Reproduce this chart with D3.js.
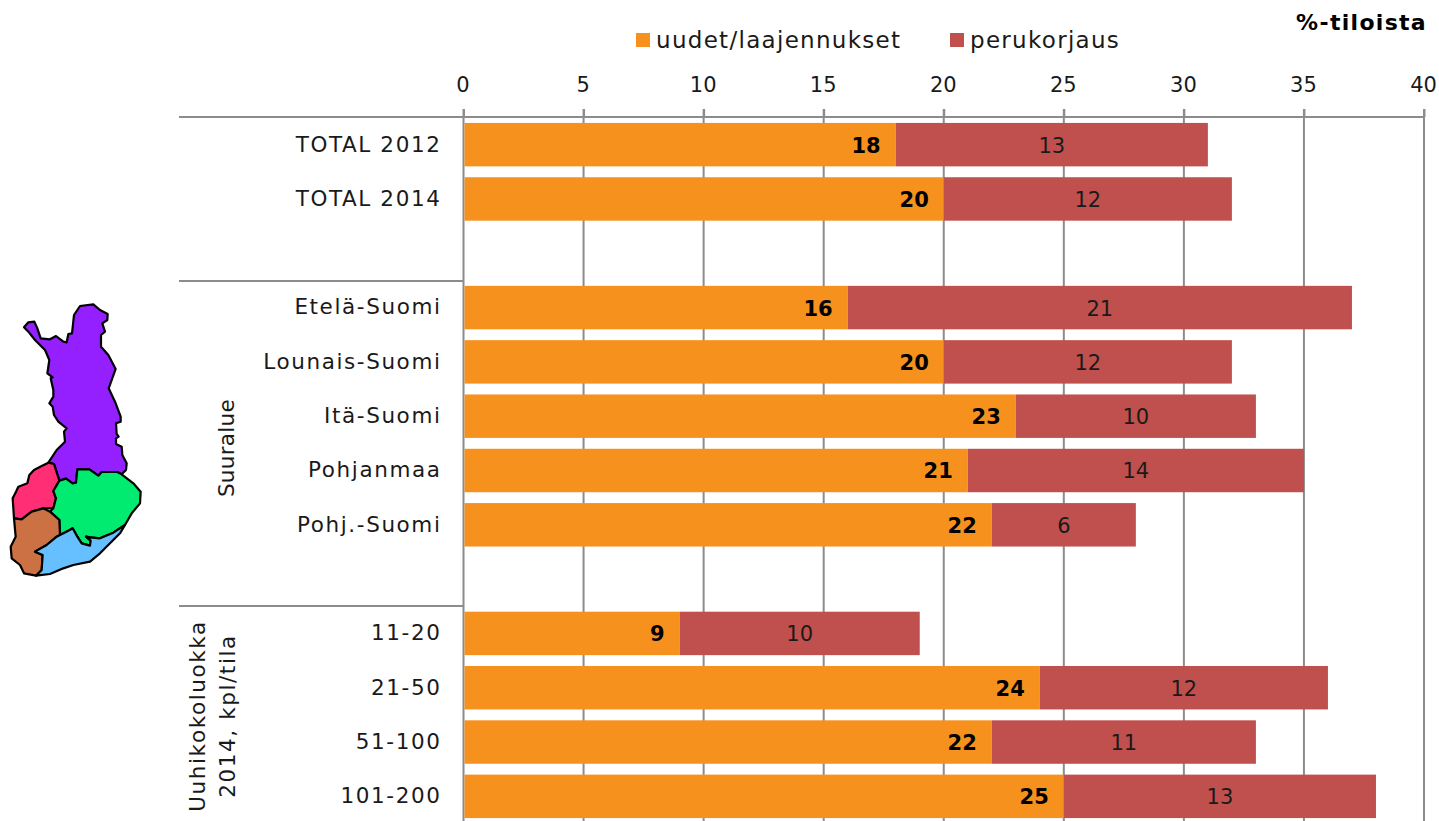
<!DOCTYPE html>
<html><head><meta charset="utf-8">
<script src="https://cdn.jsdelivr.net/npm/d3@7/dist/d3.min.js"></script>
<style>
html,body{margin:0;padding:0;background:#fff;overflow:hidden}
text{font-family:"DejaVu Sans",Verdana,sans-serif;fill:#1a1a1a}
</style></head><body><svg id="c" width="1439" height="821"></svg>
<script>
const categories=["TOTAL 2012","TOTAL 2014","_a","Etelä-Suomi","Lounais-Suomi","Itä-Suomi","Pohjanmaa","Pohj.-Suomi","_b","11-20","21-50","51-100","101-200"];
const newBuild=[18,20,null,16,20,23,21,22,null,9,24,22,25];
const renovation=[13,12,null,21,12,10,14,6,null,10,12,11,13];
const seriesNames=["uudet/laajennukset","perukorjaus"];
const seriesColors=["#F7911E","#C0504D"];
const xTicks=[0,5,10,15,20,25,30,35,40];
const mapRegions=[
{name:"Pohjois-Suomi",color:"#9420FF",pts:[[72,112],[85,97],[103,95],[112,115],[122,145],[150,148],[168,138],[190,155],[200,157],[205,132],[216,130],[222,75],[240,48],[280,43],[300,60],[323,72],[322,90],[307,100],[315,125],[303,135],[303,170],[325,195],[347,237],[326,295],[345,335],[362,380],[362,395],[348,400],[350,432],[356,440],[348,445],[348,462],[365,470],[367,495],[380,520],[378,540],[365,553],[352,546],[305,546],[295,557],[268,538],[232,538],[228,578],[218,580],[198,566],[178,572],[162,522],[145,518],[170,480],[195,455],[192,425],[200,415],[175,395],[162,375],[158,350],[148,340],[160,320],[160,300],[152,265],[158,262],[142,250],[148,210],[135,180],[105,150],[85,125]]},
{name:"Pohjanmaa",color:"#FF2E75",pts:[[145,518],[162,522],[178,572],[160,603],[168,625],[160,655],[130,655],[95,665],[65,688],[42,685],[38,625],[48,605],[55,590],[82,580],[88,555],[102,540],[125,528]]},
{name:"Itä-Suomi",color:"#00EB70",pts:[[178,572],[198,566],[218,580],[228,578],[232,538],[268,538],[295,557],[305,546],[352,546],[365,553],[400,580],[422,605],[420,640],[395,670],[375,705],[340,728],[300,745],[270,742],[258,740],[272,752],[270,767],[245,760],[232,740],[218,715],[205,722],[180,735],[178,690],[150,665],[160,655],[168,625],[160,603]]},
{name:"Lounais-Suomi",color:"#CC7143",pts:[[42,685],[65,688],[95,665],[130,655],[150,665],[178,690],[180,735],[170,740],[140,765],[105,785],[128,795],[125,840],[108,857],[72,850],[60,825],[35,805],[32,770],[47,740]]},
{name:"Etelä-Suomi",color:"#66BFFF",pts:[[108,857],[125,840],[128,795],[105,785],[140,765],[170,740],[180,735],[205,722],[218,715],[232,740],[245,760],[270,767],[272,752],[258,740],[270,742],[300,745],[340,728],[375,705],[360,730],[330,760],[300,790],[270,815],[220,825],[190,835],[150,852]]}
];

const svg=d3.select("#c");
const x=d3.scaleLinear().domain([0,40]).range([463.5,1424]);
const y=d3.scaleBand().domain(categories).range([117.5,823.5]).paddingInner(.2).paddingOuter(.1);
const rows=categories.map((c,i)=>({c,a:newBuild[i],b:renovation[i]})).filter(d=>d.a!==null);
const G="#8c8c8c",GW=2;

svg.append("g").selectAll("line").data(xTicks).join("line")
 .attr("x1",d=>x(d)).attr("x2",d=>x(d)).attr("y1",109).attr("y2",821)
 .attr("stroke",G).attr("stroke-width",GW);

const ax=svg.append("g").attr("transform","translate(0,117)")
 .call(d3.axisTop(x).tickValues(xTicks).tickSize(8).tickPadding(17));
ax.select(".domain").attr("stroke",G).attr("stroke-width",GW).attr("d",`M${x(0)},0H${x(40)}`);
ax.selectAll(".tick line").attr("stroke",G).attr("stroke-width",GW);
ax.selectAll("text").style("font-size","21px").attr("font-family",null).attr("fill","#1a1a1a").attr("dx",-1);

svg.append("g").selectAll("line").data([117,281,606]).join("line")
 .attr("x1",179).attr("x2",x(0)).attr("y1",d=>d).attr("y2",d=>d)
 .attr("stroke",G).attr("stroke-width",GW);

svg.append("g").selectAll("rect").data(rows).join("rect")
 .attr("x",x(0)+1).attr("y",d=>y(d.c)).attr("height",y.bandwidth())
 .attr("width",d=>x(d.a)-x(0)-1).attr("fill",seriesColors[0]);
svg.append("g").selectAll("rect").data(rows).join("rect")
 .attr("x",d=>x(d.a)).attr("y",d=>y(d.c)).attr("height",y.bandwidth())
 .attr("width",d=>x(d.a+d.b)-x(d.a)).attr("fill",seriesColors[1]);

svg.append("g").selectAll("text").data(rows).join("text")
 .attr("x",d=>x(d.a)-15).attr("y",d=>y(d.c)+y.bandwidth()/2).attr("dy",".38em")
 .attr("text-anchor","end").style("font-size","21px").style("font-weight","bold").style("fill","#000")
 .text(d=>d.a);
svg.append("g").selectAll("text").data(rows).join("text")
 .attr("x",d=>x(d.a+d.b/2)).attr("y",d=>y(d.c)+y.bandwidth()/2).attr("dy",".38em")
 .attr("text-anchor","middle").style("font-size","21px").style("fill","#1a1a1a")
 .text(d=>d.b);

const ay=svg.append("g").attr("transform",`translate(${x(0)},0)`)
 .call(d3.axisLeft(y).tickValues(rows.map(d=>d.c)).tickSize(0).tickPadding(22));
ay.select(".domain").remove();
ay.selectAll("text").style("font-size","21.5px").style("letter-spacing","1.6px").attr("font-family",null).attr("fill","#1a1a1a");

function vtext(px,py,t,ls){svg.append("text").attr("transform",`translate(${px},${py}) rotate(-90)`)
 .attr("text-anchor","middle").style("font-size","21.5px").style("letter-spacing",ls).text(t);}
vtext(234,448,"Suuralue","0.3px");
vtext(205,716,"Uuhikokoluokka","1.6px");
vtext(235,716,"2014, kpl/tila","1.6px");

const lg=[[636,656],[950,970]];
seriesNames.forEach((n,i)=>{
 svg.append("rect").attr("x",lg[i][0]).attr("y",33).attr("width",14).attr("height",14).attr("fill",seriesColors[i]);
 svg.append("text").attr("x",lg[i][1]).attr("y",48).style("font-size","23px").style("letter-spacing","1.3px").text(n);
});
svg.append("text").attr("x",1427).attr("y",30).attr("text-anchor","end")
 .style("font-size","22px").style("font-weight","bold").style("letter-spacing","1.3px").style("fill","#000").text("%-tiloista");

const mx=d3.scaleLinear().domain([0,3]).range([0,1]);
const my=d3.scaleLinear().domain([0,3]).range([290,291]);
const line=d3.line().x(d=>mx(d[0])).y(d=>my(d[1])).curve(d3.curveLinearClosed);
svg.append("g").selectAll("path").data(mapRegions).join("path")
 .attr("d",d=>line(d.pts)).attr("fill",d=>d.color).attr("stroke","#000").attr("stroke-width",2.2).attr("stroke-linejoin","round");
</script></body></html>
